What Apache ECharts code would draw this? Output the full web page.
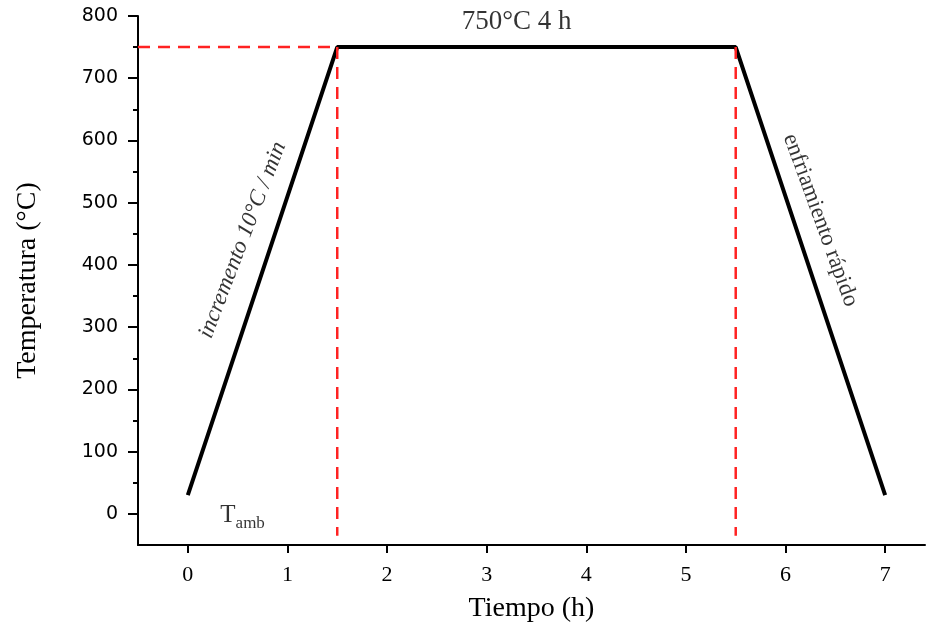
<!DOCTYPE html>
<html>
<head>
<meta charset="utf-8">
<script src="https://cdn.jsdelivr.net/npm/echarts@6/dist/echarts.min.js"></script>
<style>
  html, body { margin: 0; padding: 0; background: #fff; }
  #chart { width: 926px; height: 630px; }
</style>
</head>
<body>
<div id="chart"></div>
<script>
// heat treatment profile
const timeH = [0, 1.5, 5.5, 7]
const tempC = [30, 750, 750, 30]

// red guides
const holdTemp = 750
const rampEnd = 1.5
const coolStart = 5.5
const guideBottom = -35

// axis ticks
const timeTicks = [0, 1, 2, 3, 4, 5, 6, 7]
const tempTicks = [0, 100, 200, 300, 400, 500, 600, 700, 800]
const tempMinorTicks = [50, 150, 250, 350, 450, 550, 650, 750]

const serif = '"Liberation Serif", "DejaVu Serif", serif'
const sans = '"DejaVu Sans", sans-serif'
const red = '#ff2222'

const chart = echarts.init(document.getElementById('chart'))

const dashed = {
  color: red,
  width: 2.5,
  type: [12, 8]
}

chart.setOption({
  backgroundColor: '#fff',
  animation: false,
  grid: {
    left: 138,
    right: 1,
    top: 16,
    bottom: 85,
    containLabel: false,
    outerBoundsMode: 'none'
  },
  xAxis: {
    type: 'value',
    min: -0.5,
    max: 7.4,
    name: 'Tiempo (h)',
    nameLocation: 'middle',
    nameGap: 50,
    nameTextStyle: { fontFamily: serif, fontSize: 28, color: '#000' },
    axisLine: { onZero: false, lineStyle: { color: '#000', width: 2 } },
    axisTick: {
      customValues: timeTicks,
      length: 8,
      lineStyle: { color: '#000', width: 2 }
    },
    axisLabel: {
      customValues: timeTicks,
      margin: 19,
      fontFamily: serif,
      fontSize: 22,
      color: '#000'
    },
    splitLine: { show: false }
  },
  yAxis: [{
    type: 'value',
    min: -50,
    max: 800,
    name: 'Temperatura (°C)',
    nameLocation: 'middle',
    nameGap: 96,
    nameTextStyle: { fontFamily: serif, fontSize: 28, color: '#000' },
    axisLine: { show: true, onZero: false, lineStyle: { color: '#000', width: 2 } },
    axisTick: {
      show: true,
      customValues: tempTicks,
      length: 10,
      lineStyle: { color: '#000', width: 2 }
    },
    axisLabel: {
      customValues: tempTicks,
      margin: 20,
      fontFamily: sans,
      fontSize: 19,
      color: '#000'
    },
    splitLine: { show: false }
  }, {
    type: 'value',
    position: 'left',
    min: -50,
    max: 800,
    axisLine: { show: false, onZero: false },
    axisTick: {
      show: true,
      customValues: tempMinorTicks,
      length: 5,
      lineStyle: { color: '#000', width: 2 }
    },
    axisLabel: { show: false },
    splitLine: { show: false }
  }],
  series: [
    {
      type: 'line',
      symbol: 'none',
      silent: true,
      lineStyle: dashed,
      data: [[-0.5, holdTemp], [rampEnd, holdTemp]],
      z: 3
    },
    {
      type: 'line',
      symbol: 'none',
      silent: true,
      lineStyle: dashed,
      data: [[rampEnd, holdTemp], [rampEnd, guideBottom]],
      z: 3
    },
    {
      type: 'line',
      symbol: 'none',
      silent: true,
      lineStyle: dashed,
      data: [[coolStart, holdTemp], [coolStart, guideBottom]],
      z: 3
    },
    {
      type: 'line',
      symbol: 'none',
      lineStyle: { color: '#000', width: 4 },
      data: timeH.map((t, i) => [t, tempC[i]]),
      z: 2
    },
    {
      type: 'scatter',
      symbolSize: 0,
      silent: true,
      label: {
        show: true,
        position: 'inside',
        fontFamily: serif,
        color: '#000'
      },
      data: [
        {
          value: [3.3, 790],
          label: { formatter: '750°C 4 h', fontSize: 27 }
        },
        {
          value: [0.55, 440],
          label: { formatter: 'incremento 10°C / min', fontSize: 23, fontStyle: 'italic', rotate: 69 }
        },
        {
          value: [6.35, 472],
          label: { formatter: 'enfriamiento rápido', fontSize: 23, rotate: -70 }
        },
        {
          value: [0.55, -3],
          label: {
            formatter: '{t|T}{s|amb}',
            rich: {
              t: { fontFamily: serif, fontSize: 25, color: '#000' },
              s: { fontFamily: serif, fontSize: 17, color: '#000', padding: [16, 0, 0, 0] }
            }
          }
        }
      ]
    }
  ]
})
</script>
</body>
</html>
